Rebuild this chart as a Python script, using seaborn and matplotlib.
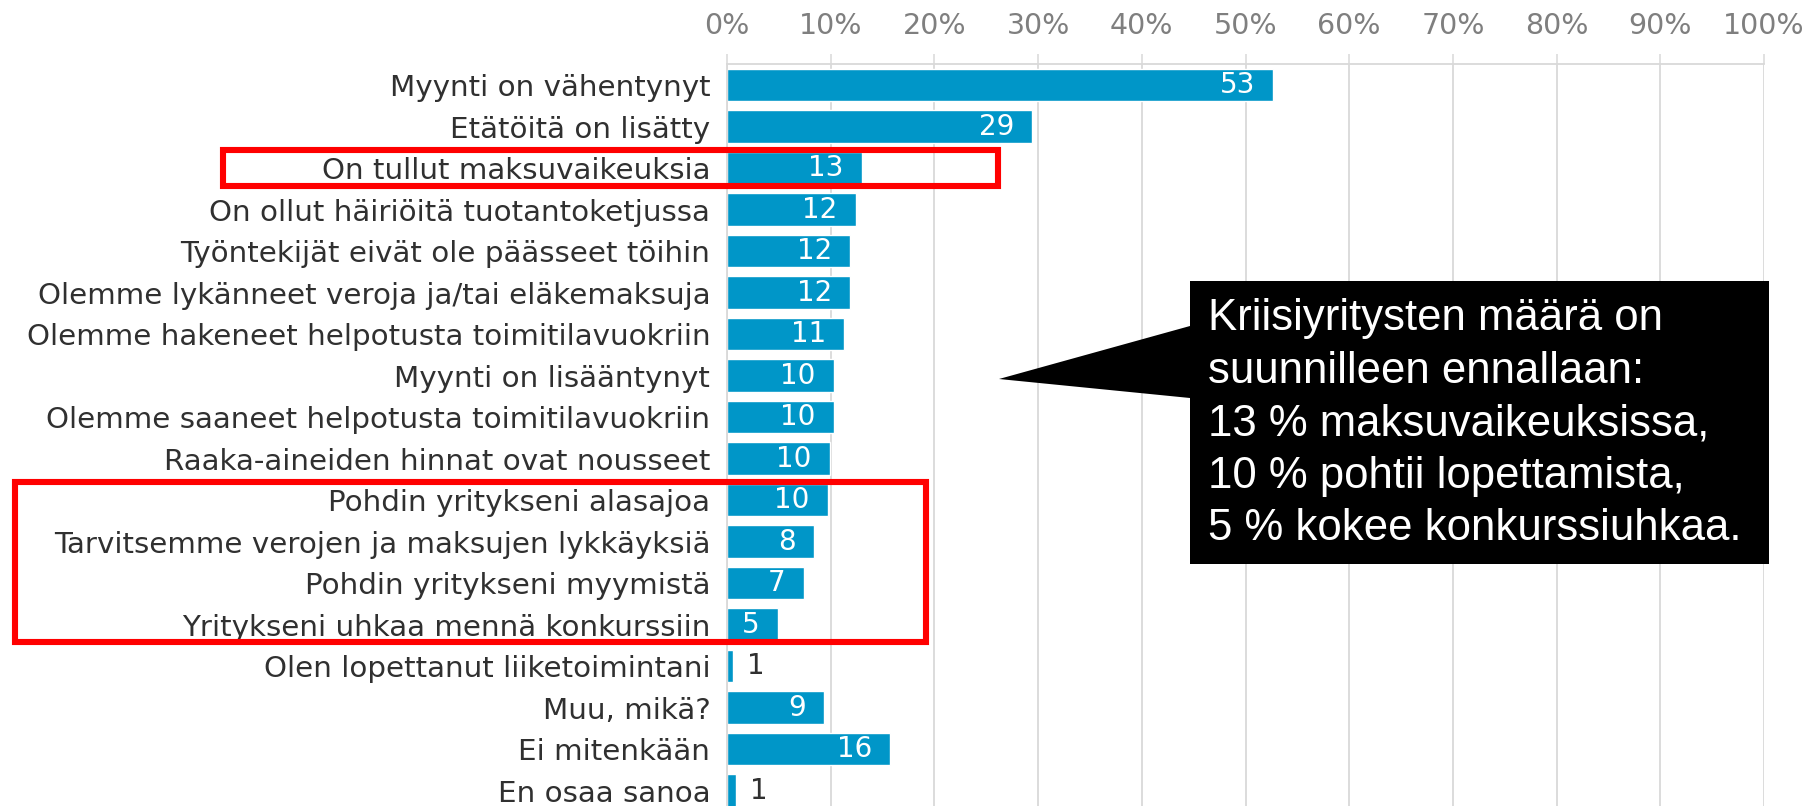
import matplotlib
matplotlib.use("Agg")
import matplotlib.pyplot as plt
import seaborn as sns
import pandas as pd
from matplotlib.patches import Polygon, Rectangle

# Data (share of respondents, %)
categories = [
    "Myynti on vähentynyt",
    "Etätöitä on lisätty",
    "On tullut maksuvaikeuksia",
    "On ollut häiriöitä tuotantoketjussa",
    "Työntekijät eivät ole päässeet töihin",
    "Olemme lykänneet veroja ja/tai eläkemaksuja",
    "Olemme hakeneet helpotusta toimitilavuokriin",
    "Myynti on lisääntynyt",
    "Olemme saaneet helpotusta toimitilavuokriin",
    "Raaka-aineiden hinnat ovat nousseet",
    "Pohdin yritykseni alasajoa",
    "Tarvitsemme verojen ja maksujen lykkäyksiä",
    "Pohdin yritykseni myymistä",
    "Yritykseni uhkaa mennä konkurssiin",
    "Olen lopettanut liiketoimintani",
    "Muu, mikä?",
    "Ei mitenkään",
    "En osaa sanoa",
]
values = [52.7, 29.4, 13.0, 12.4, 11.9, 11.9, 11.3, 10.3, 10.3, 9.9,
          9.7, 8.4, 7.4, 4.9, 0.6, 9.4, 15.7, 0.9]
value_labels = ["53", "29", "13", "12", "12", "12", "11", "10", "10", "10",
                "10", "8", "7", "5", "1", "9", "16", "1"]
x_ticks = list(range(0, 101, 10))

callout_lines = [
    "Kriisiyritysten määrä on",
    "suunnilleen ennallaan:",
    "13 % maksuvaikeuksissa,",
    "10 % pohtii lopettamista,",
    "5 % kokee konkurssiuhkaa.",
]

df = pd.DataFrame({"category": categories, "value": values})

W, H = 1806, 806
BAR_COLOR = "#0096C8"
GRID_COLOR = "#d9d9d9"

sns.set_theme(style="white")
plt.rcParams["font.family"] = ["DejaVu Sans"]

fig = plt.figure(figsize=(W / 100, H / 100), dpi=100)
ax = fig.add_axes([727 / W, (H - 811.3) / H, (1764 - 727) / W, (811.3 - 64.25) / H])

sns.barplot(data=df, x="value", y="category", orient="h", color=BAR_COLOR,
            width=0.78, saturation=1, ax=ax)

ax.set_xlim(0, 100)
ax.set_xticks(x_ticks)
ax.set_xticklabels([f"{t}%" for t in x_ticks])
ax.xaxis.tick_top()
ax.set_xlabel("")
ax.set_ylabel("")
ax.grid(axis="x", color=GRID_COLOR, linewidth=1.3)
ax.set_axisbelow(True)
ax.tick_params(axis="x", which="both", top=True, bottom=False, length=7.5,
               width=1.1, color=GRID_COLOR, labelcolor="#7f7f7f",
               labelsize=20.5, pad=10)
ax.tick_params(axis="y", length=0, pad=12, labelsize=21.2, labelcolor="#303030")
for side in ["right", "bottom"]:
    ax.spines[side].set_visible(False)
for side in ["top", "left"]:
    ax.spines[side].set_color(GRID_COLOR)
    ax.spines[side].set_linewidth(1.3)

# value labels: inside end in white, outside in dark for tiny bars
for i, (v, lab) in enumerate(zip(values, value_labels)):
    if v < 2:
        ax.annotate(lab, (v, i), xytext=(14, 0), textcoords="offset pixels",
                    ha="left", va="center", fontsize=20, color="#303030")
    else:
        ax.annotate(lab, (v, i), xytext=(-18, 0), textcoords="offset pixels",
                    ha="right", va="center", fontsize=20, color="white")


def fp(x, y):
    return (x / W, 1 - y / H)


# red highlight boxes
for (x0, y0, x1, y1) in [(223, 149.5, 998, 186), (15.5, 482, 926, 642)]:
    fig.patches.append(Rectangle(fp(x0, y1), (x1 - x0) / W, (y1 - y0) / H,
                                 transform=fig.transFigure, fill=False,
                                 edgecolor="#ff0000", linewidth=4.4, zorder=5))

# black speech-bubble callout
bubble = [fp(1190, 281), fp(1769, 281), fp(1769, 564), fp(1190, 564),
          fp(1190, 398), fp(999, 379), fp(1190, 326)]
fig.patches.append(Polygon(bubble, closed=True, transform=fig.transFigure,
                           facecolor="black", edgecolor="none", zorder=5))
fig.text(1208 / W, 1 - 298 / H, "\n".join(callout_lines), color="white",
         fontsize=31.5, family=["Liberation Sans", "DejaVu Sans"], va="top",
         ha="left", linespacing=1.36, zorder=6)

fig.savefig("out.png", dpi=100)
